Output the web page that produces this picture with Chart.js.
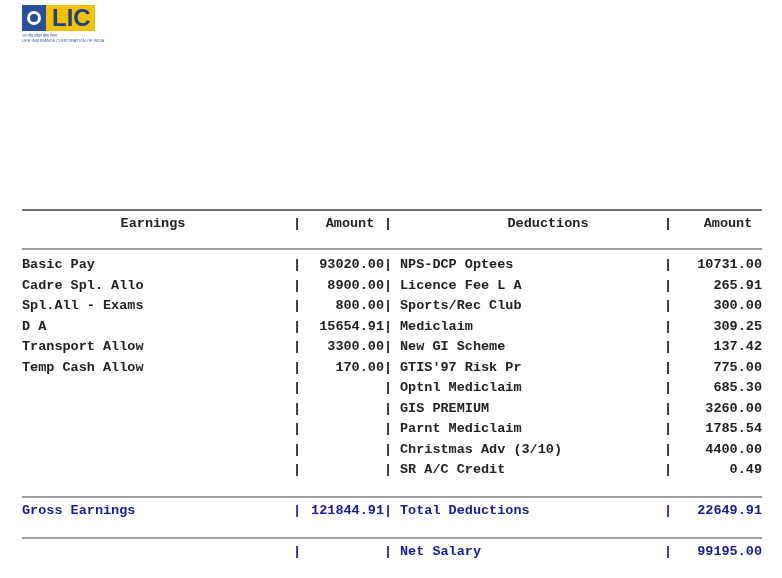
<!DOCTYPE html>
<html><head><meta charset="utf-8">
<script src="https://cdn.jsdelivr.net/npm/chart.js@4"></script>
<style>html,body{margin:0;padding:0;background:#fff}#w{width:782px;height:578px}</style>
</head><body><div id="w"><canvas id="c" width="782" height="578"></canvas></div>
<script>
const earningLabels = ["Basic Pay","Cadre Spl. Allo","Spl.All - Exams","D A","Transport Allow","Temp Cash Allow"];
const earningAmounts = ["93020.00","8900.00","800.00","15654.91","3300.00","170.00"];
const deductionLabels = ["NPS-DCP Optees","Licence Fee L A","Sports/Rec Club","Mediclaim","New GI Scheme","GTIS'97 Risk Pr","Optnl Mediclaim","GIS PREMIUM","Parnt Mediclaim","Christmas Adv (3/10)","SR A/C Credit"];
const deductionAmounts = ["10731.00","265.91","300.00","309.25","137.42","775.00","685.30","3260.00","1785.54","4400.00","0.49"];
const headers = ["Earnings","Amount","Deductions","Amount"];
const totals = {gross:"121844.91", ded:"22649.91", net:"99195.00"};

const slipPlugin = {
  id:'slip',
  afterDraw(chart){
    const ctx = chart.ctx;
    ctx.save();
    ctx.fillStyle='#2a4f9a'; ctx.fillRect(22,5,24,26);
    ctx.fillStyle='#f2c200'; ctx.fillRect(46,5,49,26);
    ctx.fillStyle='#1f3f8a'; ctx.font='bold 24px "Liberation Sans Narrow","Liberation Sans"'; ctx.textBaseline='middle';
    ctx.fillText('LIC',52,19);
    ctx.fillStyle='#fff'; ctx.beginPath(); ctx.arc(34,18,7,0,Math.PI*2); ctx.fill();
    ctx.fillStyle='#2a4f9a'; ctx.beginPath(); ctx.arc(34,18,4,0,Math.PI*2); ctx.fill();
    ctx.fillStyle='#3a5a9a'; ctx.font='4px "Liberation Sans"';
    ctx.fillText('भारतीय जीवन बीमा निगम',22,36); ctx.fillText('LIFE INSURANCE CORPORATION OF INDIA',22,41);
    const line=(y,w)=>{ctx.strokeStyle='#444';ctx.lineWidth=w;ctx.beginPath();ctx.moveTo(22,y);ctx.lineTo(762,y);ctx.stroke();};
    line(210,1.5); line(249,1.2); line(497,1.2); line(538,1.2);
    ctx.font='bold 13.5px "Liberation Mono"'; ctx.textBaseline='middle';
    const txt=(s,x,y,a,col)=>{ctx.fillStyle=col||'#222';ctx.textAlign=a||'left';ctx.fillText(s,x,y);};
    txt(headers[0],153,224,'center'); txt('|',297,224,'center'); txt(headers[1],350,224,'center');
    txt('|',388,224,'center'); txt(headers[2],548,224,'center'); txt('|',668,224,'center'); txt(headers[3],728,224,'center');
    const y0=265, dy=20.5;
    for(let i=0;i<deductionLabels.length;i++){
      const y=y0+i*dy;
      if(i<earningLabels.length){ txt(earningLabels[i],22,y); txt(earningAmounts[i],384,y,'right'); }
      txt('|',297,y,'center'); txt('|',388,y,'center'); txt('|',668,y,'center');
      txt(deductionLabels[i],400,y); txt(deductionAmounts[i],762,y,'right');
    }
    const B='#1a1aa0';
    txt('Gross Earnings',22,511,'left',B); txt('|',297,511,'center',B); txt(totals.gross,384,511,'right',B);
    txt('|',388,511,'center',B); txt('Total Deductions',400,511,'left',B); txt('|',668,511,'center',B); txt(totals.ded,762,511,'right',B);
    txt('|',297,552,'center',B); txt('|',388,552,'center',B); txt('Net Salary',400,552,'left',B);
    txt('|',668,552,'center',B); txt(totals.net,762,552,'right',B);
    ctx.restore();
  }
};
new Chart(document.getElementById('c'),{
  type:'bar',
  data:{labels:earningLabels,datasets:[{data:earningAmounts.map(Number),backgroundColor:'rgba(0,0,0,0)',borderWidth:0}]},
  options:{responsive:false,animation:false,events:[],plugins:{legend:{display:false},tooltip:{enabled:false}},
    scales:{x:{display:false},y:{display:false}}},
  plugins:[slipPlugin]
});
</script></body></html>
